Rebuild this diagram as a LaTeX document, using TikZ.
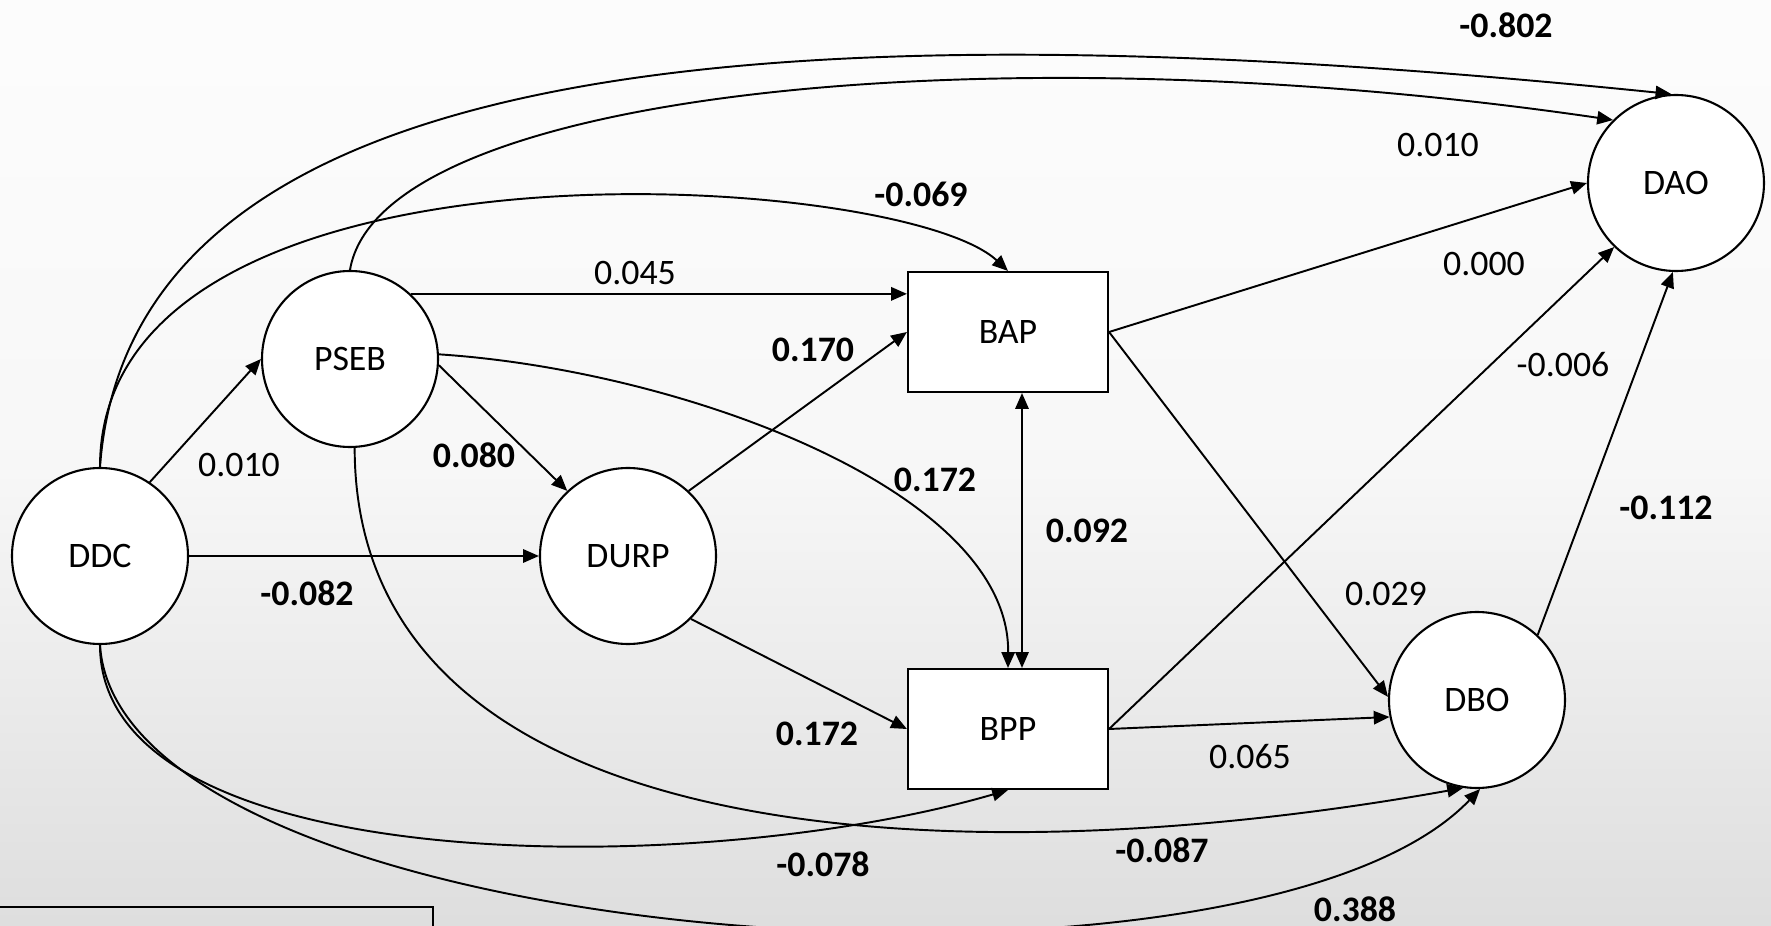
\documentclass[tikz,border=0pt]{standalone}
\usepackage{fontspec}
\setmainfont{Carlito}
\usetikzlibrary{arrows.meta}
\tikzstyle{latent}=[circle, draw=black, fill=white, line width=0.6pt, minimum size=1.76cm, inner sep=0pt]
\tikzstyle{observed}=[rectangle, draw=black, fill=white, line width=0.6pt, minimum width=2cm, minimum height=1.2cm]
\tikzstyle{effect}=[line width=0.55pt, -{Triangle[length=4.5pt, width=3.8pt]}]
\tikzstyle{mutual}=[line width=0.55pt, {Triangle[length=4.5pt, width=3.8pt]}-{Triangle[length=4.5pt, width=3.8pt]}]
\tikzstyle{coef}=[inner sep=1pt]
\tikzstyle{sig}=[inner sep=1pt, font=\fontsize{10.2}{12}\selectfont\bfseries]

\begin{document}
\begin{tikzpicture}[font=\fontsize{10.2}{12}\selectfont]
    \useasboundingbox (0,0) rectangle (17.71,9.26);
    \shade[top color=black!1, bottom color=black!13, middle color=black!3] (0,0) rectangle (17.71,9.26);
    \draw[line width=0.5pt] (0,0.19) -- (4.33,0.19) -- (4.33,0);

    \node[latent] (DDC) at (1.00,3.70) {DDC};
    \node[latent] (PSEB) at (3.50,5.67) {PSEB};
    \node[latent] (DURP) at (6.28,3.70) {DURP};
    \node[observed] (BAP) at (10.08,5.94) {BAP};
    \node[observed] (BPP) at (10.08,1.97) {BPP};
    \node[latent] (DAO) at (16.76,7.43) {DAO};
    \node[latent] (DBO) at (14.77,2.26) {DBO};

    \draw[effect] (DDC.56) -- (PSEB.west);
    \draw[effect] (DDC.east) -- (DURP.west);
    \draw[effect] (PSEB.-4) -- (DURP.133);
    \draw[effect] (PSEB.47) -- (PSEB.47 -| BAP.west);
    \draw[effect] (DURP.47) -- (BAP.west);
    \draw[effect] (DURP.-45) -- (BPP.west);
    \draw[mutual] ([xshift=0.14cm]BAP.south) -- ([xshift=0.14cm]BPP.north);
    \draw[effect] (BAP.east) -- (DAO.west);
    \draw[effect] (BAP.east) -- (DBO.178);
    \draw[effect] (BPP.east) -- (DAO.-134);
    \draw[effect] (BPP.east) -- (DBO.191);
    \draw[effect] (DBO.47) -- (DAO.-92);

    \draw[effect] (DDC.north) .. controls (1.30,8.66) and (7.50,9.26) .. (DAO.93);
    \draw[effect] (PSEB.north) .. controls (3.80,8.36) and (10.00,8.96) .. (DAO.135);
    \draw[effect] (DDC.north) .. controls (1.00,8.06) and (9.00,7.56) .. (BAP.north);
    \draw[effect] (PSEB.3) .. controls (6.80,5.56) and (10.10,4.36) .. (BPP.north);
    \draw[effect] (PSEB.-87) .. controls (3.55,0.76) and (9.50,0.46) .. (DBO.-99);
    \draw[effect] (DDC.south) .. controls (1.00,0.46) and (7.00,0.46) .. (BPP.south);
    \draw[effect] (DDC.south) .. controls (1.20,-0.24) and (12.50,-1.04) .. (DBO.-88);

    \node[sig] (wDDCDAO) at (15.06,9.01) {-0.802};
    \node[coef] (wPSEBDAO) at (14.38,7.81) {0.010};
    \node[sig] (wDDCBAP) at (9.21,7.32) {-0.069};
    \node[coef] (wPSEBBAP) at (6.35,6.53) {0.045};
    \node[coef] (wBAPDAO) at (14.84,6.62) {0.000};
    \node[sig] (wDURPBAP) at (8.13,5.76) {0.170};
    \node[coef] (wBPPDAO) at (15.63,5.61) {-0.006};
    \node[coef] (wDDCPSEB) at (2.39,4.61) {0.010};
    \node[sig] (wPSEBDURP) at (4.74,4.71) {0.080};
    \node[sig] (wPSEBBPP) at (9.35,4.46) {0.172};
    \node[sig] (wBAPBPP) at (10.87,3.95) {0.092};
    \node[sig] (wDBODAO) at (16.66,4.18) {-0.112};
    \node[sig] (wDDCDURP) at (3.07,3.33) {-0.082};
    \node[coef] (wBAPDBO) at (13.86,3.32) {0.029};
    \node[sig] (wDURPBPP) at (8.17,1.92) {0.172};
    \node[coef] (wBPPDBO) at (12.50,1.69) {0.065};
    \node[sig] (wPSEBDBO) at (11.62,0.76) {-0.087};
    \node[sig] (wDDCBPP) at (8.23,0.62) {-0.078};
    \node[sig] (wDDCDBO) at (13.55,0.17) {0.388};
\end{tikzpicture}
\end{document}
